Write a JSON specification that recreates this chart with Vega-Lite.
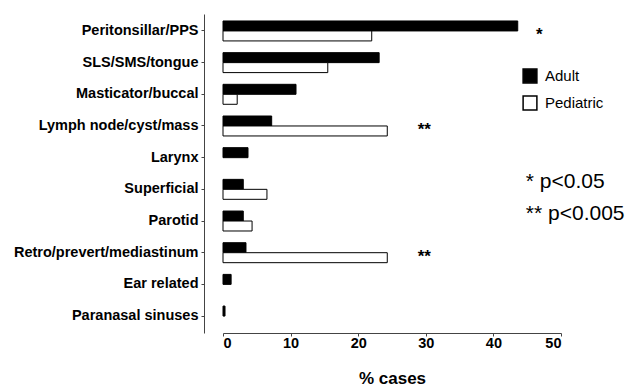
{
  "$schema": "https://vega.github.io/schema/vega-lite/v6.json",
  "width": 338,
  "height": 319,
  "autosize": "none",
  "padding": {"left": 223, "top": 14, "right": 69, "bottom": 55},
  "background": "white",
  "config": {
    "view": {"stroke": null},
    "font": "Liberation Sans",
    "axis": {"grid": false, "domainColor": "#444", "tickColor": "#444"}
  },
  "datasets": {
    "bars": [
      {"site": "Peritonsillar/PPS", "group": "Adult", "pct": 43.6},
      {"site": "Peritonsillar/PPS", "group": "Pediatric", "pct": 22.0},
      {"site": "SLS/SMS/tongue", "group": "Adult", "pct": 23.1},
      {"site": "SLS/SMS/tongue", "group": "Pediatric", "pct": 15.5},
      {"site": "Masticator/buccal", "group": "Adult", "pct": 10.8},
      {"site": "Masticator/buccal", "group": "Pediatric", "pct": 2.1},
      {"site": "Lymph node/cyst/mass", "group": "Adult", "pct": 7.2},
      {"site": "Lymph node/cyst/mass", "group": "Pediatric", "pct": 24.3},
      {"site": "Larynx", "group": "Adult", "pct": 3.7},
      {"site": "Superficial", "group": "Adult", "pct": 3.0},
      {"site": "Superficial", "group": "Pediatric", "pct": 6.5},
      {"site": "Parotid", "group": "Adult", "pct": 3.0},
      {"site": "Parotid", "group": "Pediatric", "pct": 4.3},
      {"site": "Retro/prevert/mediastinum", "group": "Adult", "pct": 3.4},
      {"site": "Retro/prevert/mediastinum", "group": "Pediatric", "pct": 24.3},
      {"site": "Ear related", "group": "Adult", "pct": 1.2},
      {"site": "Paranasal sinuses", "group": "Adult", "pct": 0.3}
    ],
    "stars": [
      {"site": "Peritonsillar/PPS", "pct": 46.3, "label": "*"},
      {"site": "Lymph node/cyst/mass", "pct": 28.8, "label": "**"},
      {"site": "Retro/prevert/mediastinum", "pct": 28.8, "label": "**"}
    ],
    "notes": [
      {"site": "Superficial", "pct": 44.8, "label": "* p<0.05"},
      {"site": "Parotid", "pct": 44.8, "label": "** p<0.005"}
    ]
  },
  "layer": [
    {
      "data": {"name": "bars"},
      "mark": {"type": "bar", "stroke": "black", "strokeWidth": 1},
      "encoding": {
        "y": {
          "field": "site",
          "type": "nominal",
          "sort": ["Peritonsillar/PPS", "SLS/SMS/tongue", "Masticator/buccal", "Lymph node/cyst/mass", "Larynx", "Superficial", "Parotid", "Retro/prevert/mediastinum", "Ear related", "Paranasal sinuses"],
          "scale": {"paddingInner": 0.37, "paddingOuter": 0.22},
          "axis": {
            "title": null,
            "offset": 19,
            "tickSize": 3,
            "labelPadding": 3,
            "labelFontSize": 14.5,
            "labelFontWeight": "bold",
            "labelColor": "black",
            "labelLimit": 250
          }
        },
        "yOffset": {"field": "group", "type": "nominal", "scale": {"domain": ["Adult", "Pediatric"]}},
        "x": {
          "field": "pct",
          "type": "quantitative",
          "scale": {"domain": [0, 50], "nice": false},
          "axis": {
            "title": "% cases",
            "values": [0, 10, 20, 30, 40, 50],
            "tickSize": 3,
            "labelPadding": 0,
            "labelFontSize": 14.5,
            "labelFontWeight": "bold",
            "labelColor": "black",
            "titleFontSize": 17,
            "titleFontWeight": "bold",
            "titleColor": "black",
            "titlePadding": 21
          }
        },
        "fill": {
          "field": "group",
          "type": "nominal",
          "scale": {"domain": ["Adult", "Pediatric"], "range": ["black", "white"]},
          "legend": {
            "title": null,
            "orient": "none",
            "legendX": 299,
            "legendY": 54,
            "symbolType": "square",
            "symbolSize": 190,
            "symbolStrokeColor": "black",
            "symbolStrokeWidth": 1.5,
            "labelFontSize": 15,
            "labelColor": "black",
            "rowPadding": 7,
            "labelOffset": 7
          }
        }
      }
    },
    {
      "data": {"name": "stars"},
      "mark": {"type": "text", "fontSize": 17, "fontWeight": "bold", "align": "left", "baseline": "middle", "dy": 4, "color": "black"},
      "encoding": {
        "y": {"field": "site", "type": "nominal", "sort": ["Peritonsillar/PPS", "SLS/SMS/tongue", "Masticator/buccal", "Lymph node/cyst/mass", "Larynx", "Superficial", "Parotid", "Retro/prevert/mediastinum", "Ear related", "Paranasal sinuses"]},
        "x": {"field": "pct", "type": "quantitative"},
        "text": {"field": "label"}
      }
    },
    {
      "data": {"name": "notes"},
      "mark": {"type": "text", "fontSize": 21, "align": "left", "baseline": "middle", "dy": -7, "color": "black", "clip": false},
      "encoding": {
        "y": {"field": "site", "type": "nominal", "sort": ["Peritonsillar/PPS", "SLS/SMS/tongue", "Masticator/buccal", "Lymph node/cyst/mass", "Larynx", "Superficial", "Parotid", "Retro/prevert/mediastinum", "Ear related", "Paranasal sinuses"]},
        "x": {"field": "pct", "type": "quantitative"},
        "text": {"field": "label"}
      }
    }
  ]
}
